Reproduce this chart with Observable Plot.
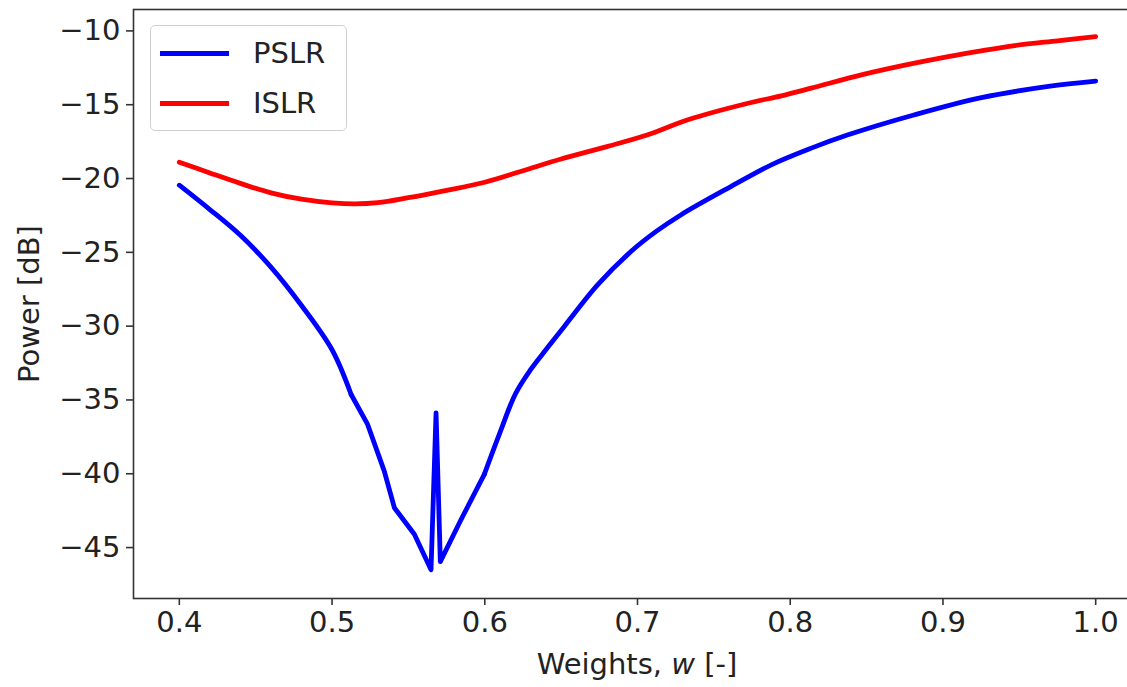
<!DOCTYPE html>
<html>
<head>
<meta charset="utf-8">
<script src="https://cdn.jsdelivr.net/npm/d3@7"></script>
<script src="https://cdn.jsdelivr.net/npm/@observablehq/plot@0.6"></script>
<style>
  body { margin: 0; overflow: hidden; background: #fff; font-family: "DejaVu Sans", sans-serif; }
  #wrap { position: relative; width: 1127px; height: 687px; overflow: hidden; }
  #wrap svg { max-width: none !important; }
  .lbl { position: absolute; font-size: 29px; color: #222; white-space: nowrap; }
  #legend { position: absolute; left: 150px; top: 25px; width: 197px; height: 106px; border: 1px solid #d0d0d0; border-radius: 5px; background: rgba(255,255,255,0.85); box-sizing: border-box; }
  .row { position: absolute; left: 9px; height: 30px; display: flex; align-items: center; font-size: 29px; color: #222; }
  .sw { width: 69px; height: 5px; margin-right: 24px; }
</style>
</head>
<body>
<div id="wrap"></div>
<script>
// Data
const seriesNames = ["PSLR", "ISLR"];
const seriesColors = ["blue", "red"];

const pslrW  = [0.400, 0.420, 0.440, 0.460, 0.480, 0.500, 0.5125, 0.5233, 0.5342, 0.5408, 0.5539, 0.5648, 0.5681, 0.5709, 0.5845, 0.5997, 0.610, 0.620, 0.630, 0.640, 0.6522, 0.6740, 0.6959, 0.7120, 0.7286, 0.7614, 0.7876, 0.8138, 0.8379, 0.8815, 0.9252, 0.9690, 1.000];
const pslrDb = [-20.45, -22.10, -23.85, -26.00, -28.60, -31.60, -34.63, -36.66, -39.82, -42.30, -44.10, -46.50, -35.87, -45.95, -43.10, -40.04, -37.20, -34.60, -32.95, -31.60, -30.00, -27.19, -24.93, -23.60, -22.45, -20.53, -19.07, -17.94, -17.04, -15.68, -14.52, -13.76, -13.40];
// sharp-cornered stretch of the PSLR curve (around the null and its spike)
const pslrSharp = [0.5125, 0.5997];

const islrW  = [0.400, 0.420, 0.440, 0.460, 0.480, 0.500, 0.515, 0.530, 0.550, 0.575, 0.600, 0.625, 0.650, 0.680, 0.7068, 0.733, 0.7724, 0.7942, 0.8138, 0.8466, 0.875, 0.9034, 0.925, 0.947, 0.975, 1.000];
const islrDb = [-18.89, -19.62, -20.33, -20.97, -21.40, -21.65, -21.72, -21.64, -21.30, -20.80, -20.25, -19.47, -18.68, -17.84, -17.04, -16.02, -14.90, -14.40, -13.88, -12.98, -12.32, -11.74, -11.35, -10.99, -10.67, -10.39];

const xTicks = [0.4, 0.5, 0.6, 0.7, 0.8, 0.9, 1.0];
const yTicks = [-45, -40, -35, -30, -25, -20, -15, -10];

const pslrRows = pslrW.map((w, i) => ({series: "PSLR", w, db: pslrDb[i]}));
const smoothRows = [
  ...pslrRows.filter(d => d.w <= pslrSharp[0]).map(d => ({...d, part: "PSLR-a"})),
  ...pslrRows.filter(d => d.w >= pslrSharp[1]).map(d => ({...d, part: "PSLR-c"})),
  ...islrW.map((w, i) => ({series: "ISLR", part: "ISLR", w, db: islrDb[i]}))
];
const sharpRows = pslrRows.filter(d => d.w >= pslrSharp[0] && d.w <= pslrSharp[1]);

const minus = d => (d < 0 ? "\u2212" : "") + Math.abs(d);

const chart = Plot.plot({
  width: 1141,
  height: 687,
  marginLeft: 133,
  marginRight: 0,
  marginTop: 9,
  marginBottom: 89,
  style: { fontFamily: "DejaVu Sans", fontSize: "29px", color: "#222", background: "white", maxWidth: "none" },
  x: { domain: [0.37, 1.03] },
  y: { domain: [-48.45, -8.55] },
  color: { domain: seriesNames, range: seriesColors },
  marks: [
    Plot.axisX({ticks: xTicks, tickFormat: d => d.toFixed(1), tickSize: 7, tickPadding: 6, label: null, stroke: "#333", strokeWidth: 1.6}),
    Plot.axisY({ticks: yTicks, tickFormat: minus, tickSize: 7, tickPadding: 6, label: null, stroke: "#333", strokeWidth: 1.6}),
    Plot.line(smoothRows, {x: "w", y: "db", z: "part", stroke: "series", strokeWidth: 4.8, curve: "catmull-rom", strokeLinejoin: "round"}),
    Plot.line(sharpRows, {x: "w", y: "db", stroke: "series", strokeWidth: 4.8, curve: "linear", strokeLinejoin: "round"}),
    Plot.frame({stroke: "#333", strokeWidth: 1.6})
  ]
});

const wrap = document.getElementById("wrap");
wrap.appendChild(chart);

// Legend
const legend = document.createElement("div");
legend.id = "legend";
seriesNames.forEach((name, i) => {
  const row = document.createElement("div");
  row.className = "row";
  row.style.top = (12 + i * 50) + "px";
  const sw = document.createElement("span");
  sw.className = "sw";
  sw.style.background = seriesColors[i];
  const t = document.createElement("span");
  t.textContent = name;
  row.appendChild(sw);
  row.appendChild(t);
  legend.appendChild(row);
});
wrap.appendChild(legend);

// Axis labels
const xl = document.createElement("div");
xl.className = "lbl";
xl.innerHTML = "Weights, <i>w</i> [-]";
xl.style.left = "637px";
xl.style.top = "664px";
xl.style.transform = "translate(-50%, -50%)";
wrap.appendChild(xl);

const yl = document.createElement("div");
yl.className = "lbl";
yl.textContent = "Power [dB]";
yl.style.left = "29px";
yl.style.top = "304px";
yl.style.transform = "translate(-50%, -50%) rotate(-90deg)";
wrap.appendChild(yl);
</script>
</body>
</html>
